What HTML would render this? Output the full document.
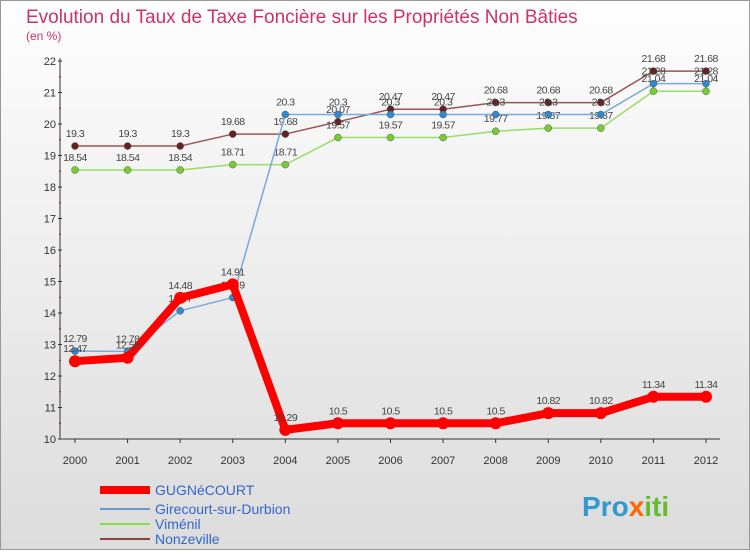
<!DOCTYPE html>
<html><head><meta charset="utf-8"><style>
body{margin:0;width:750px;height:550px;overflow:hidden;font-family:"Liberation Sans",sans-serif}
</style></head><body>
<svg width="750" height="550" id="c" font-family="Liberation Sans, sans-serif">
<defs><linearGradient id="bg" x1="0" y1="0" x2="0" y2="1"><stop offset="0" stop-color="#fefefe"/><stop offset="1" stop-color="#dcdcdc"/></linearGradient></defs>
<rect x="0.5" y="0.5" width="749" height="549" fill="url(#bg)" stroke="#999"/>
<text x="26" y="23" font-size="19" fill="#cc3366">Evolution du Taux de Taxe Foncière sur les Propriétés Non Bâties</text>
<text x="26" y="40" font-size="12" fill="#cc3366">(en %)</text>
<g id="axes"></g><g id="series"></g>
<g>
<rect x="100" y="486" width="50" height="8" fill="#ff0000"/>
<text x="155" y="495" font-size="14" fill="#3366cc">GUGNéCOURT</text>
<rect x="100" y="508" width="50" height="2" fill="#6699cc"/>
<text x="155" y="514" font-size="14" fill="#3366cc">Girecourt-sur-Durbion</text>
<rect x="100" y="523" width="50" height="2" fill="#88dd44"/>
<text x="155" y="529" font-size="14" fill="#3366cc">Viménil</text>
<rect x="100" y="538" width="50" height="2" fill="#884444"/>
<text x="155" y="544" font-size="14" fill="#3366cc">Nonzeville</text>
</g>
<text x="582" y="516" font-size="28" font-weight="bold" fill="#3399cc">Pro<tspan fill="#ff6600">x</tspan><tspan fill="#66bb33">iti</tspan></text>
</svg>
<script>
const years=[2000,2001,2002,2003,2004,2005,2006,2007,2008,2009,2010,2011,2012];
const yTicks=[10,11,12,13,14,15,16,17,18,19,20,21,22];
const gug=[12.47,12.58,14.48,14.91,10.29,10.5,10.5,10.5,10.5,10.82,10.82,11.34,11.34];
const gire=[12.79,12.78,14.07,14.49,20.3,20.3,20.3,20.3,20.3,20.3,20.3,21.28,21.28];
const vim=[18.54,18.54,18.54,18.71,18.71,19.57,19.57,19.57,19.77,19.87,19.87,21.04,21.04];
const nonz=[19.3,19.3,19.3,19.68,19.68,20.07,20.47,20.47,20.68,20.68,20.68,21.68,21.68];
const NS="http://www.w3.org/2000/svg";
const xs=i=>75+i*(706-75)/(years.length-1);
const ys=v=>439-(v-10)*(439-61)/12;
function mk(t,a,p){const e=document.createElementNS(NS,t);for(const k in a)e.setAttribute(k,a[k]);p.appendChild(e);return e;}
const axes=document.getElementById('axes'),ser=document.getElementById('series');
yTicks.forEach(v=>{
 const t=mk('text',{x:56,y:ys(v)+4,'font-size':11,fill:'#333','text-anchor':'end'},axes);t.textContent=v;
 
 mk('line',{x1:58,x2:62,y1:ys(v),y2:ys(v),stroke:'#333'},axes);
 if(v<22){mk('line',{x1:59,x2:61,y1:ys(v+0.5),y2:ys(v+0.5),stroke:'#f00'},axes);}
});
let a=mk('line',{x1:60,x2:60,y1:58,y2:439,stroke:'#333'},axes);
a=mk('line',{x1:60,x2:720,y1:439,y2:439,stroke:'#333'},axes);
years.forEach((y,i)=>{
 const t=mk('text',{x:xs(i),y:464,'font-size':11,fill:'#333','text-anchor':'middle'},axes);t.textContent=y;
 
 mk('line',{x1:xs(i),x2:xs(i),y1:439,y2:443,stroke:'#333'},axes);
});
function series(vals,color,w,r,name,dot){
 const g=mk('g',{},ser);
 const p=mk('polyline',{points:vals.map((v,i)=>xs(i)+','+ys(v)).join(' '),fill:'none',stroke:color,'stroke-width':w,'stroke-linejoin':'round'},g);
 
 vals.forEach((v,i)=>{
  const c=mk('circle',{cx:xs(i),cy:ys(v),r:r,fill:dot,stroke:w>3?'none':'#555','stroke-width':0.5},g);
  
  const t=mk('text',{x:xs(i),y:ys(v)-9,'font-size':10.5,fill:'#444','text-anchor':'middle','letter-spacing':'-0.5'},g);t.textContent=v;
  
 });
}
series(nonz,'#995555',1.5,3.5,'nonzeville','#662222');
series(vim,'#99dd66',1.5,3.5,'vimenil','#77cc33');
series(gire,'#77aadd',1.5,3.5,'girecourt','#3388cc');
series(gug,'#ff0000',8,6,'gugnecourt','#ff0000');
</script>
</body></html>
